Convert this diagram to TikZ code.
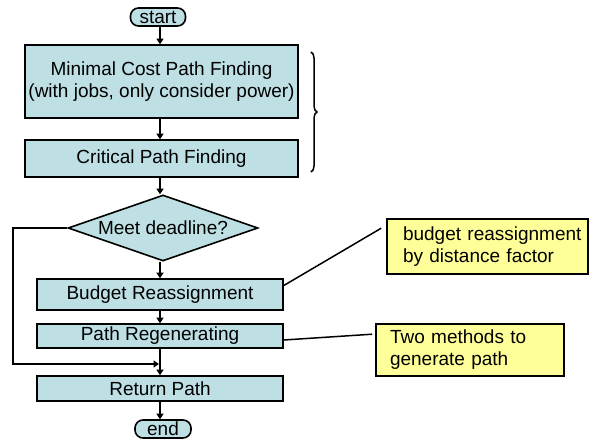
\documentclass[tikz,border=0pt]{standalone}
\usepackage{fontspec}
\setmainfont{Liberation Sans}
\usetikzlibrary{shapes.geometric,arrows.meta,decorations.pathreplacing}
\definecolor{boxfill}{RGB}{190,224,228}
\definecolor{notefill}{RGB}{255,255,153}
\begin{document}
\begin{tikzpicture}[x=1pt,y=-1pt,
  every node/.style={font=\fontsize{19}{22}\selectfont},
  procbox/.style={draw=black, line width=1.6pt, fill=boxfill, inner sep=0pt, align=center},
  pill/.style={draw=black, line width=1.6pt, fill=boxfill, rounded corners=8pt, inner sep=0pt, minimum height=18pt},
  decision/.style={draw=black, line width=1.6pt, fill=boxfill, diamond, aspect=2.88, inner sep=0pt, minimum width=190pt, minimum height=66pt},
  notebox/.style={draw=black, line width=1.6pt, fill=notefill, inner ysep=0pt, inner xsep=4pt, align=left},
  flow/.style={line width=2pt, -{Triangle[length=5.5pt,width=7pt]}},
  notelink/.style={line width=1.5pt}
]
\useasboundingbox (0,0) rectangle (591,441);

\node[pill, minimum width=55pt] (start) at (158,17) {start};
\node[procbox, minimum width=273pt, minimum height=73pt] (mcp) at (161.5,81.5) {Minimal Cost Path Finding\\(with jobs, only consider power)};
\node[procbox, minimum width=273pt, minimum height=37pt] (cpf) at (161.5,158.5) {Critical Path Finding};
\node[decision] (meet) at (163,228) {Meet deadline?};
\node[procbox, minimum width=246pt, minimum height=31pt] (budget) at (160,294.5) {Budget Reassignment};
\node[procbox, minimum width=246pt, minimum height=24pt] (regen) at (160,336) {Path Regenerating};
\node[procbox, minimum width=246pt, minimum height=25pt] (ret) at (160,388.5) {Return Path};
\node[pill, minimum width=56pt] (stop) at (163,429) {end};

\node[notebox, text width=193pt, minimum height=55pt] (note1) at (487.5,246.5) {\hspace*{12pt}budget reassignment\\\hspace*{12pt}by distance factor};
\node[notebox, text width=180pt, minimum height=52pt] (note2) at (470,350) {\hspace*{10pt}Two methods to\\\hspace*{10pt}generate path};

\draw[flow] (start.south -| 160,0) -- (mcp.north -| 160,0);
\draw[flow] (mcp.south -| 160,0) -- (cpf.north -| 160,0);
\draw[flow] (cpf.south -| 160,0) -- (meet.north -| 160,0);
\draw[flow] (meet.south -| 160,0) -- (budget.north);
\draw[flow] (budget.south) -- (regen.north);
\draw[flow] (regen.south) -- (ret.north);
\draw[flow] (ret.south) -- (stop.north -| 160,0);

\coordinate (loopcorner) at (13,364);
\coordinate (merge) at (159,364);
\draw[flow] (meet.west) -- (meet.west -| loopcorner) -- (loopcorner) -- (merge);

\draw[notelink] ([yshift=9pt]budget.east) -- ([xshift=-5pt,yshift=-10pt]note1.north west);
\draw[notelink] ([yshift=-4pt]regen.east) -- ([xshift=-3pt,yshift=-11pt]note2.north west);

\draw[line width=1.5pt, decorate, decoration={brace, amplitude=6pt}] (311,52) -- (311,172);
\end{tikzpicture}
\end{document}
